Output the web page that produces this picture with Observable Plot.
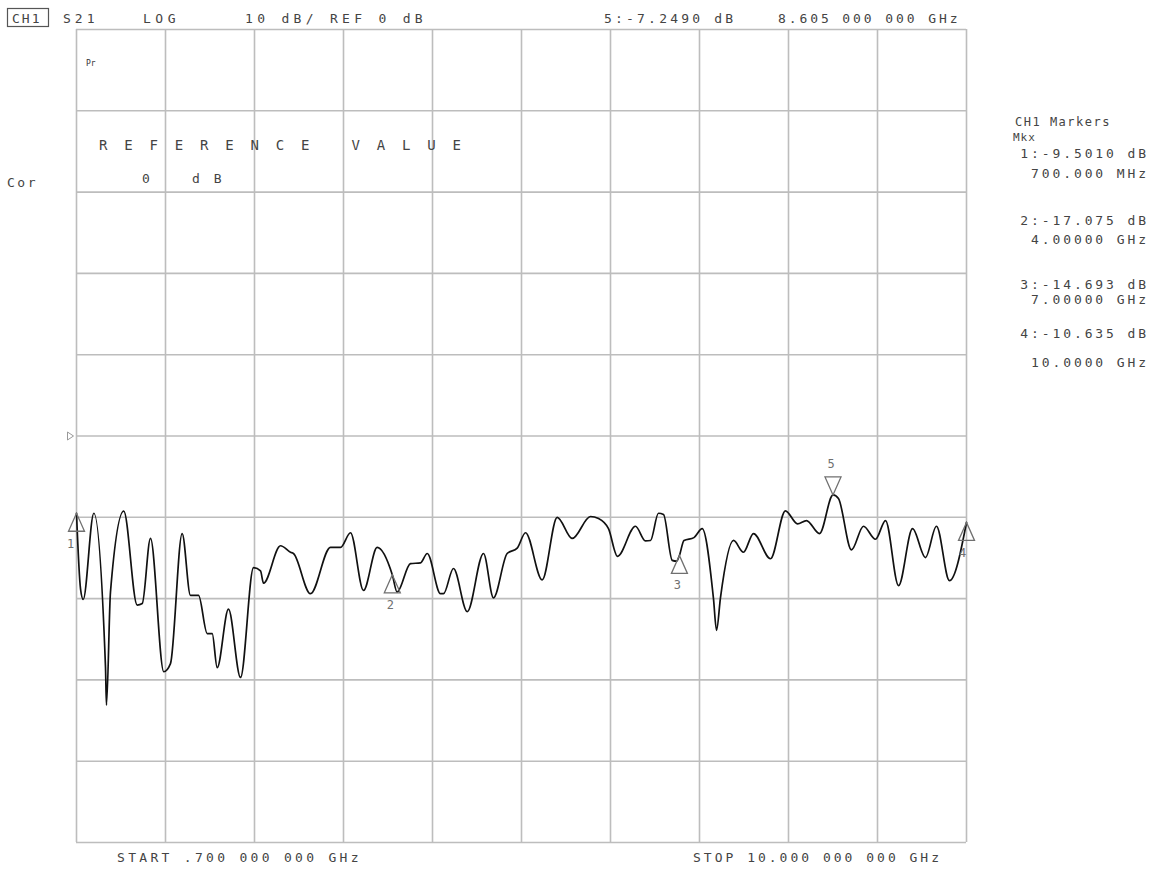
<!DOCTYPE html>
<html>
<head>
<meta charset="utf-8">
<script src="https://cdn.jsdelivr.net/npm/d3@7"></script>
<script src="https://cdn.jsdelivr.net/npm/@observablehq/plot@0.6"></script>
<style>
  html, body { margin: 0; padding: 0; background: #fff; }
  #chart { position: relative; width: 1153px; height: 869px; }
</style>
</head>
<body>
<div id="chart"></div>
<script>
const startGHz = 0.7;
const stopGHz = 10.0;
const refLevel = 0;      // dB
const scaleDiv = 10;     // dB per division

const freqGHz = [0.700, 0.742, 0.770, 0.881, 1.003, 1.013, 1.055, 1.194, 1.334, 1.387,
  1.473, 1.612, 1.682, 1.804, 1.891, 1.975, 2.066, 2.118, 2.170, 2.288,
  2.414, 2.550, 2.623, 2.654, 2.832, 2.936, 2.967, 3.145, 3.354, 3.459,
  3.563, 3.699, 3.842, 4.000, 4.050, 4.190, 4.295, 4.365, 4.504, 4.535,
  4.639, 4.783, 4.953, 5.057, 5.200, 5.305, 5.392, 5.566, 5.723, 5.880,
  6.071, 6.155, 6.259, 6.353, 6.541, 6.645, 6.698, 6.781, 6.834, 6.925,
  6.970, 7.000, 7.048, 7.152, 7.238, 7.356, 7.388, 7.429, 7.565, 7.669,
  7.774, 7.952, 8.108, 8.234, 8.328, 8.464, 8.605, 8.662, 8.798, 8.924,
  9.049, 9.154, 9.290, 9.436, 9.571, 9.686, 9.822, 10.000];
const s21dB = [-9.50, -18.8, -20.1, -9.5, -28.4, -33.1, -19.2, -9.25, -20.8, -20.6,
  -12.6, -29.0, -28.0, -12.0, -19.6, -19.6, -24.3, -24.3, -28.5, -21.3,
  -29.7, -16.2, -16.6, -18.1, -13.5, -14.3, -14.45, -19.4, -13.7, -13.7,
  -11.9, -19.0, -13.7, -17.075, -19.2, -15.7, -15.6, -14.45, -19.4, -19.4,
  -16.3, -21.6, -14.45, -19.9, -14.45, -13.8, -11.9, -17.7, -10.0, -12.6,
  -9.9, -10.15, -11.4, -14.8, -11.1, -12.9, -12.85, -9.5, -9.65, -15.3,
  -15.4, -14.693, -12.85, -12.5, -11.4, -20.0, -23.9, -19.9, -12.85, -14.3,
  -12.0, -15.1, -9.2, -10.8, -10.4, -12.0, -7.249, -7.7, -14.0, -11.1,
  -12.7, -10.4, -18.4, -11.4, -14.95, -11.1, -17.8, -10.635];

const markerId = ["1", "2", "3", "4", "5"];
const markerGHz = [0.7, 4.0, 7.0, 10.0, 8.605];
const markerdB = [-9.501, -17.075, -14.693, -10.635, -7.249];
const markerDir = ["up", "up", "up", "up", "down"];

const markerReadout = [
  ["1:-9.5010 dB", "700.000 MHz"],
  ["2:-17.075 dB", "4.00000 GHz"],
  ["3:-14.693 dB", "7.00000 GHz"],
  ["4:-10.635 dB", "10.0000 GHz"]
];

// ---- Build table ----
const trace = freqGHz.map((f, i) => ({f, db: s21dB[i]}));
const markers = markerId.map((id, i) => ({id, f: markerGHz[i], db: markerdB[i], dir: markerDir[i]}));
const upMarkers = markers.filter(d => d.dir === "up");
const downMarkers = markers.filter(d => d.dir === "down");
const midLabels = upMarkers.filter(d => d.id === "2" || d.id === "3");
const firstLabel = upMarkers.filter(d => d.id === "1");
const lastLabel = upMarkers.filter(d => d.id === "4");

const xGrid = d3.range(11).map(i => startGHz + i * (stopGHz - startGHz) / 10);
const yGrid = d3.range(11).map(i => refLevel - 5 * scaleDiv + i * scaleDiv);

const triUp = { draw(ctx) { ctx.moveTo(0, 0); ctx.lineTo(-8, 18); ctx.lineTo(8, 18); ctx.closePath(); } };
const triDown = { draw(ctx) { ctx.moveTo(0, 0); ctx.lineTo(-8, -18); ctx.lineTo(8, -18); ctx.closePath(); } };
const refTri = { draw(ctx) { ctx.moveTo(0, 0); ctx.lineTo(-6, -4); ctx.lineTo(-6, 4); ctx.closePath(); } };

const gridColor = "#bdbdbd";
const markColor = "#707070";
const lblFont = "DejaVu Sans Mono";

const plot = Plot.plot({
  width: 1153,
  height: 869,
  marginLeft: 76,
  marginRight: 187,
  marginTop: 29,
  marginBottom: 27,
  x: { domain: [startGHz, stopGHz], axis: null },
  y: { domain: [refLevel - 5 * scaleDiv, refLevel + 5 * scaleDiv], axis: null },
  marks: [
    Plot.ruleX(xGrid, { stroke: gridColor, strokeWidth: 1.6 }),
    Plot.ruleY(yGrid, { stroke: gridColor, strokeWidth: 1.6 }),
    Plot.line(trace, { x: "f", y: "db", stroke: "#111", strokeWidth: 1.7, curve: "monotone-x" }),
    Plot.dot(upMarkers, { x: "f", y: "db", symbol: triUp, fill: "none", stroke: markColor, strokeWidth: 1.3 }),
    Plot.dot(downMarkers, { x: "f", y: "db", symbol: triDown, fill: "none", stroke: markColor, strokeWidth: 1.3 }),
    Plot.text(midLabels, { x: "f", y: "db", text: "id", dy: 30, dx: -2, fill: markColor, fontSize: 12, fontFamily: lblFont }),
    Plot.text(firstLabel, { x: "f", y: "db", text: "id", dy: 31, dx: -6, fill: markColor, fontSize: 12, fontFamily: lblFont }),
    Plot.text(lastLabel, { x: "f", y: "db", text: "id", dy: 31, dx: -4, fill: markColor, fontSize: 12, fontFamily: lblFont }),
    Plot.text(downMarkers, { x: "f", y: "db", text: "id", dy: -31, dx: -2, fill: markColor, fontSize: 12, fontFamily: lblFont }),
    Plot.dot([{f: startGHz, db: refLevel}], { x: "f", y: "db", symbol: refTri, dx: -3, fill: "none", stroke: "#999", strokeWidth: 1 })
  ]
});

document.getElementById("chart").appendChild(plot);

// ---- Annotation texts (screen labels) ----
const svg = d3.select(plot);
const txtColor = "#444";
function label(x, y, s, opts = {}) {
  svg.append("text")
    .attr("x", x).attr("y", y)
    .attr("fill", opts.fill || txtColor)
    .attr("text-anchor", opts.anchor || "start")
    .style("font-family", "'DejaVu Sans Mono', monospace")
    .style("font-size", (opts.size || 13) + "px")
    .style("letter-spacing", (opts.ls != null ? opts.ls : 3.2) + "px")
    .style("white-space", "pre")
    .attr("xml:space", "preserve")
    .text(s);
}
// header
svg.append("rect").attr("x", 7.5).attr("y", 8.5).attr("width", 41).attr("height", 18)
  .attr("fill", "none").attr("stroke", "#555").attr("stroke-width", 1.2);
label(12, 23, "CH1", {ls: 2});
label(63, 23, "S21", {ls: 4});
label(143, 23, "LOG", {ls: 4.5});
label(245, 23, "10 dB/ REF 0 dB", {ls: 4.3});
label(604, 23, "5:-7.2490 dB", {ls: 3.2});
label(778, 23, "8.605 000 000 GHz", {ls: 2.9});
// left
label(7, 187, "Cor", {ls: 2.5});
// inside grid
label(86, 66, "Pr", {size: 8, ls: 0, fill: "#333"});
label(99, 150, "R E F E R E N C E   V A L U E", {size: 14, ls: 4.2});
label(142, 183, "0", {size: 13, ls: 0});
label(192, 183, "d B", {size: 13, ls: 3});
// right readout
label(1015, 126, "CH1 Markers", {size: 12, ls: 1.5});
label(1013, 141, "Mkx", {size: 11, ls: 1});
const readY = [[158, 178], [225, 244], [289, 304], [338, 367]];
markerReadout.forEach((r, i) => {
  label(1149, readY[i][0], r[0], {anchor: "end", ls: 2.9});
  label(1149, readY[i][1], r[1], {anchor: "end", ls: 2.9});
});
// bottom
label(117, 862, "START .700 000 000 GHz", {ls: 3.3});
label(693, 862, "STOP 10.000 000 000 GHz", {ls: 3.0});
</script>
</body>
</html>
